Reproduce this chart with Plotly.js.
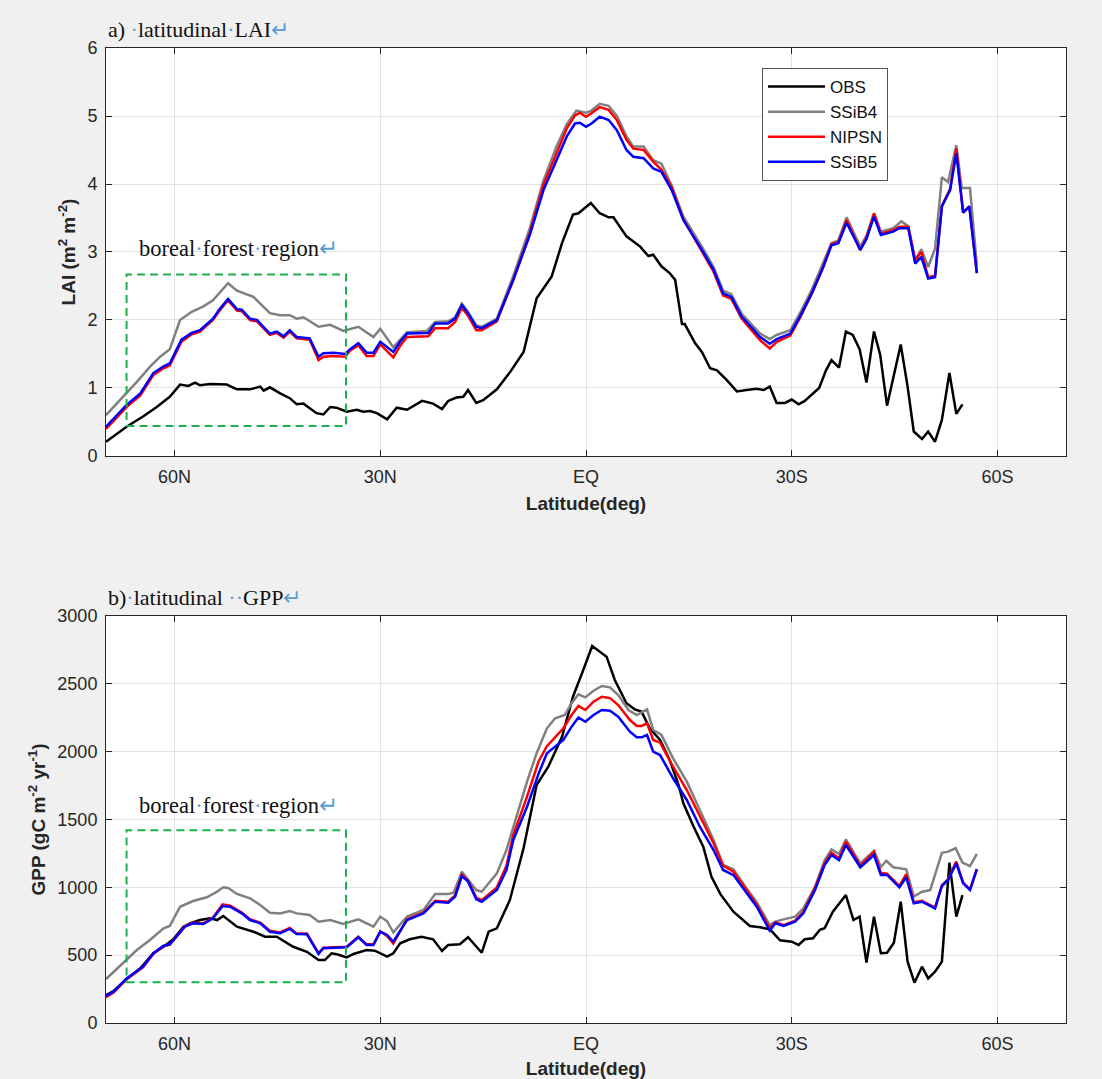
<!DOCTYPE html>
<html>
<head>
<meta charset="utf-8">
<script src="https://cdn.plot.ly/plotly-3.0.1.min.js"></script>
<style>html,body{margin:0;padding:0;background:#f0f0f0;}#chart{width:1102px;height:1079px;}</style>
</head>
<body>
<div id="chart"></div>
<script>
// ---------- Data (latitude in degrees, north positive) ----------
const seriesNames = ['OBS', 'SSiB4', 'NIPSN', 'SSiB5'];
const tickLats = [60, 30, 0, -30, -60];
const tickLabels = ['60N', '30N', 'EQ', '30S', '60S'];

// Panel a: LAI
const latLAI_OBS = [70,67,64.6,62.6,60.7,59.2,58,57,56.3,54.8,52.4,50.9,49,47.5,47,46.1,44.6,43.2,42.2,41.2,39.3,38.3,37.3,36.4,34.9,33.4,32.5,31.5,30.5,29,27.6,26.1,23.9,22.3,21,20.1,18.9,17.9,17.2,16,15,13,11.1,9.1,7.2,5,3.5,1.9,1.1,-0.7,-2,-3.3,-4,-5.9,-7.9,-9.1,-9.8,-11,-12.2,-13,-14,-14.4,-15.9,-16.9,-18.1,-19.1,-20.5,-22,-23.4,-24.9,-25.9,-26.8,-27.8,-29,-30,-31,-31.9,-32.9,-34,-35,-35.8,-36.9,-37.9,-38.9,-39.9,-40.9,-42,-42.9,-43.9,-45.9,-46.9,-47.8,-49,-49.9,-50.9,-51.9,-53,-54,-54.9];
const laiOBS = [0.21,0.43,0.58,0.72,0.87,1.05,1.03,1.08,1.04,1.06,1.05,0.98,0.98,1.02,0.96,1.01,0.92,0.85,0.76,0.77,0.63,0.61,0.72,0.71,0.65,0.68,0.65,0.66,0.63,0.54,0.71,0.68,0.81,0.77,0.69,0.81,0.86,0.87,0.97,0.78,0.82,0.98,1.23,1.53,2.32,2.64,3.13,3.55,3.57,3.72,3.57,3.51,3.51,3.23,3.08,2.94,2.96,2.79,2.69,2.59,1.94,1.94,1.66,1.53,1.29,1.26,1.12,0.95,0.97,0.99,0.97,1.02,0.78,0.78,0.83,0.76,0.81,0.90,1.00,1.26,1.41,1.30,1.83,1.78,1.57,1.08,1.83,1.49,0.74,1.64,1.02,0.36,0.25,0.36,0.21,0.53,1.22,0.62,0.76];

const latLAI_SSiB4 = [70,67,65.5,63.6,62.1,60.7,59.2,57.5,55.8,54.4,52.2,50.9,48.5,46.1,44.6,43.2,42.2,41.2,39,37.3,35.4,33.2,31,30,28.1,26.1,23.2,22,20.1,19.1,18.1,17.2,16,15.2,13,10.6,8.2,6.2,4.3,2.8,1.4,0,-0.8,-2,-3.3,-4.5,-5.9,-6.9,-8.4,-9.8,-11,-12.5,-14.2,-16.9,-18.6,-20,-21.2,-22.7,-25.4,-26.8,-27.8,-29.8,-31.2,-32.9,-34.6,-35.8,-36.8,-38,-40,-40.9,-42,-43,-44.8,-46,-47,-48,-48.9,-49.9,-50.9,-51.9,-52.8,-54,-54.8,-56,-57];
const laiSSiB4 = [0.60,0.92,1.09,1.31,1.46,1.57,2.00,2.12,2.20,2.29,2.54,2.43,2.34,2.10,2.07,2.07,2.02,2.04,1.90,1.93,1.84,1.90,1.75,1.87,1.60,1.82,1.84,1.97,1.98,2.04,2.24,2.12,1.92,1.90,2.02,2.65,3.35,4.05,4.55,4.88,5.08,5.05,5.08,5.18,5.15,5.00,4.70,4.55,4.55,4.35,4.30,3.98,3.52,3.08,2.78,2.43,2.38,2.09,1.80,1.72,1.78,1.85,2.10,2.44,2.83,3.13,3.17,3.51,3.08,3.24,3.56,3.30,3.35,3.45,3.38,2.88,3.04,2.78,3.05,4.10,4.03,4.57,3.94,3.94,2.80];

const latLAI_MOD = [70,67,65,63.1,61.6,60.7,59,57.5,56.3,54.4,53.5,52.2,50.9,50.2,49,48,46.1,45.1,44.1,43.2,42.2,40.3,39,38.3,36.8,35.1,34.4,33.2,32,31,30,28.1,27.1,26.1,23,22,20.1,19.1,18.1,17.2,16,15.2,13,10.6,8.2,6.2,4.3,2.8,1.6,0.9,0,-0.8,-2,-3.3,-4.5,-5.9,-6.9,-8.4,-9.8,-11,-12.5,-14.2,-16.9,-18.6,-20,-21.2,-22.7,-25.4,-26.8,-27.8,-29.8,-31.2,-32.9,-34.6,-35.8,-36.8,-38,-40,-40.9,-42,-43,-44.8,-45.7,-47,-48,-48.9,-49.9,-50.9,-51.9,-53.1,-54,-55,-55.9,-57];
const laiNIPSN = [0.40,0.72,0.89,1.19,1.29,1.33,1.68,1.79,1.83,2.00,2.13,2.29,2.14,2.13,2.00,1.98,1.78,1.81,1.74,1.83,1.73,1.71,1.41,1.46,1.47,1.46,1.55,1.63,1.47,1.47,1.64,1.45,1.62,1.75,1.76,1.88,1.88,1.97,2.18,2.06,1.85,1.85,1.98,2.59,3.28,3.99,4.45,4.82,5.01,5.05,4.99,5.04,5.13,5.09,4.94,4.65,4.52,4.50,4.33,4.21,3.95,3.48,3.01,2.71,2.36,2.31,2.02,1.70,1.58,1.68,1.77,2.03,2.38,2.78,3.12,3.14,3.47,3.03,3.21,3.57,3.27,3.32,3.37,3.37,2.88,3.00,2.63,2.65,3.68,3.93,4.52,3.58,3.67,2.69];
const laiSSiB5 = [0.43,0.75,0.92,1.22,1.32,1.36,1.71,1.81,1.85,2.02,2.15,2.31,2.16,2.15,2.02,2.00,1.80,1.83,1.76,1.85,1.75,1.73,1.46,1.51,1.52,1.50,1.57,1.66,1.52,1.52,1.68,1.53,1.68,1.80,1.81,1.95,1.95,2.02,2.22,2.10,1.90,1.88,2.00,2.59,3.25,3.91,4.35,4.70,4.89,4.90,4.84,4.89,4.99,4.94,4.79,4.50,4.40,4.38,4.23,4.18,3.91,3.47,3.03,2.74,2.39,2.34,2.05,1.75,1.65,1.72,1.80,2.05,2.39,2.78,3.10,3.13,3.43,3.03,3.19,3.52,3.25,3.30,3.35,3.35,2.83,2.93,2.61,2.63,3.67,3.91,4.45,3.58,3.67,2.69];

// Panel b: GPP
const latGPP_OBS = [70,68.9,67,65,63.1,61.6,60.2,58.7,57.7,56.3,54.8,53.8,52.9,50.9,48.5,46.8,45.1,42.7,40.7,39,38.1,37.1,36.2,34.9,33.9,32,30.8,29,28.1,27.1,25.7,24,22.3,21,20.1,18.4,17.2,15.2,14.2,13,11.1,9.1,7.2,5.5,3.5,1.9,0.4,-0.9,-3,-4.2,-5.9,-7.1,-8.1,-9.3,-10.8,-12.2,-13.5,-14.2,-15.7,-17.1,-18.3,-19.6,-21.5,-23.9,-25.4,-26.8,-28.3,-30,-31,-31.9,-33.1,-34.1,-34.8,-36,-37.9,-39,-39.9,-40.9,-42,-43,-43.9,-44.9,-45.9,-46.9,-47.9,-49,-49.9,-50.9,-51.9,-53,-54,-54.9];
const gppOBS = [206,236,322,403,514,562,617,710,735,759,772,759,789,710,673,636,636,562,525,464,464,514,505,484,509,538,533,489,514,587,617,636,617,531,575,580,632,518,673,698,907,1290,1754,1889,2110,2405,2602,2779,2700,2528,2357,2312,2295,2172,2086,1939,1754,1619,1447,1300,1078,950,820,715,705,691,610,599,575,617,624,686,698,820,943,759,784,445,784,514,518,592,894,452,297,415,329,378,452,1182,784,943];

const latGPP_SSiB4 = [70,67,65.5,63.6,61.6,60.7,59.2,57.3,55.3,53.8,52.9,52.2,50.9,49,47.5,46.1,44.6,43.2,42.2,40.3,39,37.3,35.4,33.2,31,30,29,28.1,26.1,23.7,22,20.1,19.3,18.1,16,15.2,13,11.6,10.6,8.6,7.2,5.7,4.5,3.1,2.1,1.1,0.1,-1.1,-2.3,-3.5,-4.7,-6.2,-7.4,-8.9,-9.8,-11,-12.7,-14.7,-16.6,-18.6,-20,-21.5,-23.4,-24.9,-26.8,-27.6,-28.8,-30.5,-31.7,-33.4,-34.8,-35.8,-36.9,-37.9,-40,-42,-43,-43.8,-44.8,-46.7,-47.8,-49,-50.2,-51.9,-52.8,-53.9,-54.9,-56,-57];
const gppSSiB4 = [324,464,538,612,698,715,857,899,927,968,1000,995,951,919,870,813,808,826,808,796,747,759,730,764,710,784,750,669,784,833,951,951,960,1115,980,968,1103,1275,1447,1779,1988,2172,2246,2270,2357,2423,2400,2449,2484,2474,2418,2307,2270,2312,2160,2123,1951,1779,1570,1349,1165,1133,993,890,722,747,764,784,845,1005,1200,1280,1246,1354,1177,1268,1150,1196,1148,1133,931,968,980,1255,1263,1288,1182,1157,1246];

const latGPP_MOD = [70,68.9,67,64.6,63.1,61.6,60.7,58.5,57.3,55.8,54.4,53,51.9,50.2,49,47.5,46.1,44.6,43.2,42.2,40.7,39,38.3,36.4,34.9,33.2,32,31,30,29,28.1,26.1,23.7,22,20.1,19.1,18.1,17.2,16,15.2,13,11.6,10.6,8.6,6.9,5.7,4.3,3.3,2.1,1.1,0.1,-1.1,-2.3,-3.5,-4.7,-6.4,-7.4,-8.1,-8.9,-9.8,-10.8,-12.7,-14.7,-16.6,-18.6,-20,-21.5,-23.4,-24.9,-26.8,-27.6,-28.8,-30.5,-31.7,-33.4,-34.8,-35.8,-36.9,-37.9,-40,-42,-43,-43.9,-45.7,-46.7,-47.8,-49,-50.9,-51.9,-52.8,-54,-55,-56,-57];
const gppNIPSN = [190,225,322,410,508,565,578,712,738,735,778,875,865,815,765,740,680,668,700,660,660,515,555,560,562,636,580,580,676,640,585,765,815,900,893,940,1095,1050,925,905,1000,1160,1386,1668,1930,2040,2120,2172,2270,2337,2307,2368,2405,2395,2344,2233,2189,2190,2209,2086,2066,1889,1717,1521,1325,1160,1115,980,870,700,742,722,755,820,995,1180,1255,1215,1337,1160,1262,1105,1100,1010,1098,890,900,850,1015,1060,1190,1035,985,1135];
const gppSSiB5 = [199,231,329,415,514,570,580,710,735,730,772,862,857,808,759,735,673,661,693,656,654,509,551,558,558,632,575,575,673,649,599,759,808,894,887,931,1083,1042,912,894,980,1128,1349,1594,1840,1988,2049,2086,2184,2253,2221,2270,2307,2302,2258,2147,2106,2106,2123,2000,1975,1804,1644,1447,1275,1128,1090,956,857,680,735,715,747,808,980,1165,1238,1201,1312,1148,1238,1091,1091,1000,1074,882,894,845,1010,1054,1177,1030,980,1133];

// boreal forest region boxes [lat north, lat south, low, high]
const borealLAI = [67, 35, 0.44, 2.67];
const borealGPP = [67, 35, 300, 1420];

// ---------- Styling ----------
const colors = {OBS: '#000000', SSiB4: '#808080', NIPSN: '#ff0000', SSiB5: '#0000ff'};
const sans = 'Liberation Sans, Arial, Helvetica, sans-serif';
const serif = 'Liberation Serif, Times New Roman, serif';
const axisCol = '#262626';
const mark = s => '<span style="color:#5b9bd5">' + s + '</span>';

function tr(x, y, name, xa, ya, show) {
  return {x: x, y: y, name: name, type: 'scatter', mode: 'lines', xaxis: xa, yaxis: ya,
    showlegend: show, legendgroup: name,
    line: {color: colors[name], width: 2.5}};
}

const data = [
  tr(latLAI_OBS, laiOBS, 'OBS', 'x', 'y', true),
  tr(latLAI_SSiB4, laiSSiB4, 'SSiB4', 'x', 'y', true),
  tr(latLAI_MOD, laiNIPSN, 'NIPSN', 'x', 'y', true),
  tr(latLAI_MOD, laiSSiB5, 'SSiB5', 'x', 'y', true),
  tr(latGPP_OBS, gppOBS, 'OBS', 'x2', 'y2', false),
  tr(latGPP_SSiB4, gppSSiB4, 'SSiB4', 'x2', 'y2', false),
  tr(latGPP_MOD, gppNIPSN, 'NIPSN', 'x2', 'y2', false),
  tr(latGPP_MOD, gppSSiB5, 'SSiB5', 'x2', 'y2', false)
];

function xax(anchor) {
  return {
    anchor: anchor, domain: [0, 1], range: [70, -70], autorange: false,
    tickmode: 'array', tickvals: tickLats, ticktext: tickLabels,
    showgrid: true, gridcolor: '#e2e2e2', gridwidth: 1, zeroline: false,
    showline: true, linecolor: axisCol, linewidth: 1, mirror: 'ticks',
    ticks: 'inside', ticklen: 6, tickcolor: axisCol, ticklabelstandoff: 4,
    tickfont: {family: sans, size: 18, color: axisCol},
    title: {text: '<b>Latitude(deg)</b>', font: {family: sans, size: 19, color: axisCol}, standoff: 11}
  };
}
function yax(anchor, dom, rng, dt, title) {
  return {
    anchor: anchor, domain: dom, range: rng, autorange: false, dtick: dt, tick0: 0,
    showgrid: true, gridcolor: '#e2e2e2', gridwidth: 1, zeroline: false,
    showline: true, linecolor: axisCol, linewidth: 1, mirror: 'ticks',
    ticks: 'inside', ticklen: 6, tickcolor: axisCol, ticklabelstandoff: 4,
    tickfont: {family: sans, size: 18, color: axisCol},
    title: {text: title, font: {family: sans, size: 19, color: axisCol}, standoff: 6}
  };
}

function box(b, xr, yr) {
  return {type: 'rect', xref: xr, yref: yr, x0: b[0], x1: b[1], y0: b[2], y1: b[3],
    line: {color: '#1db04f', width: 2, dash: '8px,5px'}, fillcolor: 'rgba(0,0,0,0)', layer: 'above'};
}

const layout = {
  width: 1102, height: 1079,
  paper_bgcolor: '#f0f0f0', plot_bgcolor: '#ffffff',
  margin: {l: 106, r: 36, t: 0, b: 0},
  xaxis: xax('y'),
  yaxis: yax('x', [0.5774, 0.9555], [0, 6], 1, '<b>LAI (m<sup>2</sup> m<sup>-2</sup>)</b>'),
  xaxis2: xax('y2'),
  yaxis2: yax('x2', [0.0519, 0.4291], [0, 3000], 500, '<b>GPP (gC m<sup>-2</sup> yr<sup>-1</sup>)</b>'),
  showlegend: true,
  legend: {x: 0.6833, y: 0.937, xanchor: 'left', yanchor: 'top', xref: 'paper', yref: 'paper',
    bgcolor: '#ffffff', bordercolor: '#555555', borderwidth: 1,
    font: {family: sans, size: 17, color: '#111111'}, itemwidth: 57, tracegroupgap: 0},
  shapes: [box(borealLAI, 'x', 'y'), box(borealGPP, 'x2', 'y2')],
  annotations: [
    {xref: 'paper', yref: 'paper', x: 0.0, y: 1 - 29 / 1079, xanchor: 'left', yanchor: 'middle', showarrow: false,
     text: 'a) ' + mark('·') + 'latitudinal' + mark('·') + 'LAI' + mark('↵'), font: {family: serif, size: 22, color: '#111111'}},
    {xref: 'paper', yref: 'paper', x: 0.0, y: 1 - 597 / 1079, xanchor: 'left', yanchor: 'middle', showarrow: false,
     text: 'b)' + mark('·') + 'latitudinal ' + mark('··') + 'GPP' + mark('↵'), font: {family: serif, size: 22, color: '#111111'}},
    {xref: 'x', yref: 'y', x: 65.5, y: 3.05, xanchor: 'left', yanchor: 'middle', showarrow: false,
     text: 'boreal' + mark('·') + 'forest' + mark('·') + 'region' + mark('↵'), font: {family: serif, size: 22.5, color: '#111111'}},
    {xref: 'x2', yref: 'y2', x: 65.5, y: 1600, xanchor: 'left', yanchor: 'middle', showarrow: false,
     text: 'boreal' + mark('·') + 'forest' + mark('·') + 'region' + mark('↵'), font: {family: serif, size: 22.5, color: '#111111'}}
  ]
};

Plotly.newPlot('chart', data, layout, {displayModeBar: false, staticPlot: true});
</script>
</body>
</html>
